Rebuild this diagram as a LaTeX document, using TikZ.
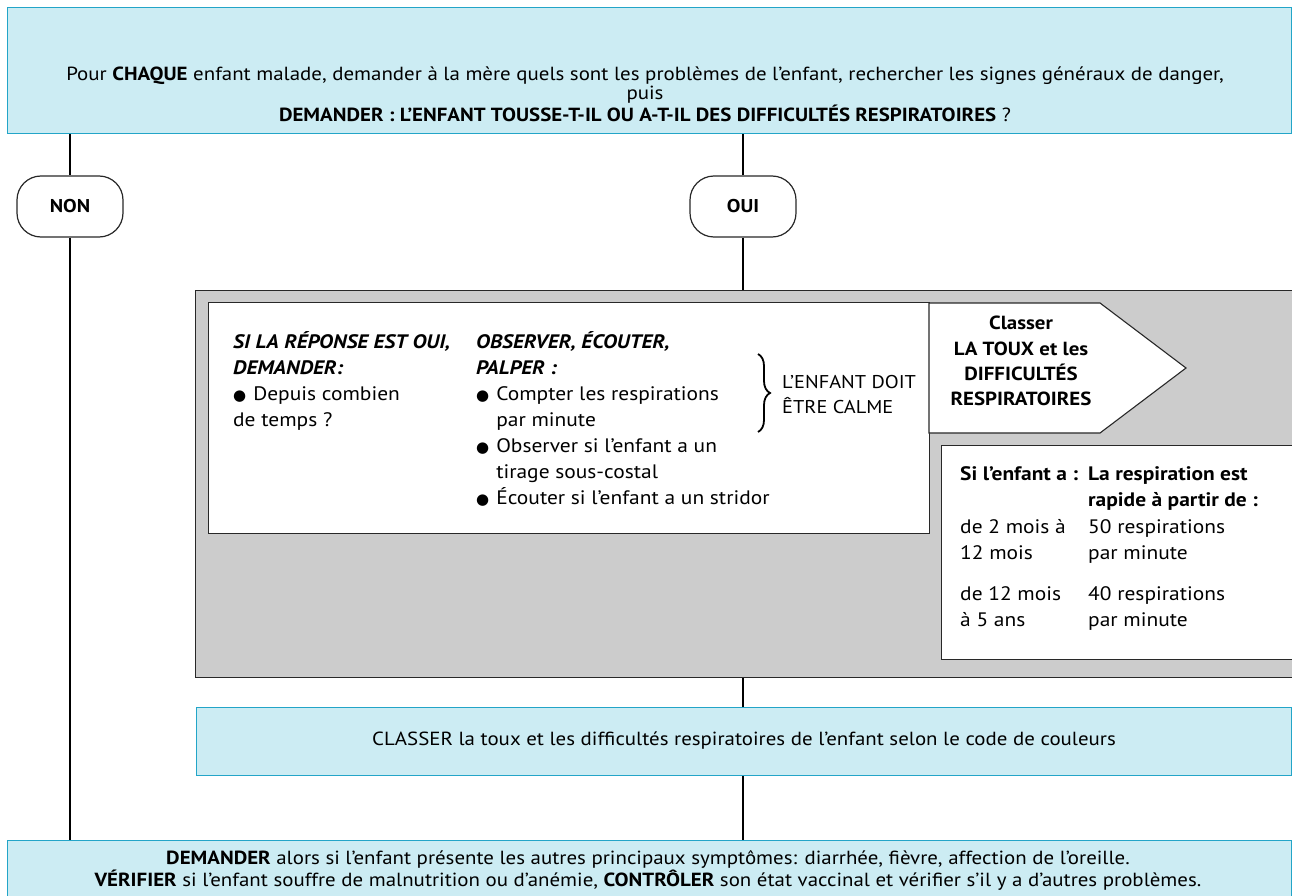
\documentclass[tikz,border=0pt]{standalone}
\usepackage{fontspec}
\setmainfont{PT Sans}[FakeStretch=1.1]
\newfontfamily\symfont{DejaVu Sans}
\usetikzlibrary{decorations.pathreplacing}

\definecolor{bluefill}{RGB}{204,236,243}
\definecolor{blueline}{RGB}{35,165,200}
\definecolor{grayfill}{RGB}{204,204,204}
\definecolor{edge}{RGB}{40,40,40}

\newcommand{\bul}{{\symfont\fontsize{15}{15}\selectfont ●}\hspace{7pt}}
\newcommand{\hang}{\hphantom{\bul}}
% stacked lines, anchored on the baseline of the first one
\newcommand{\lns}[1]{\begin{tabular}[t]{@{}l@{}}#1\end{tabular}}

\begin{document}
\begin{tikzpicture}[x=1pt,y=-1pt,
  bluebox/.style={draw=blueline, fill=bluefill, line width=1.3pt, anchor=north west, inner sep=0pt},
  graybox/.style={draw=edge, fill=grayfill, line width=1.4pt, anchor=north west, inner sep=0pt},
  whitebox/.style={draw=edge, fill=white, line width=1.1pt},
  pill/.style={draw=edge, fill=white, rounded corners=24pt, line width=1.2pt,
    minimum width=106pt, minimum height=61pt, inner sep=0pt,
    font=\fontsize{18.5}{20}\selectfont\bfseries},
  flow/.style={draw=black, line width=2pt},
  body/.style={font=\fontsize{19.5}{26}\selectfont, inner sep=0pt, anchor=base west},
  wide/.style={font=\fontsize{19}{19.7}\selectfont, align=center, inner sep=0pt}]

\useasboundingbox (0,0) rectangle (1292,896);
\clip (0,0) rectangle (1292,896);
\fill[white] (0,0) rectangle (1292,896);

% question box at the top
\node[bluebox, minimum width=1284pt, minimum height=126pt] (q) at (7,7) {};
\node[wide] (qtext) at (645,94) {Pour \textbf{CHAQUE} enfant malade, demander à la mère quels sont les problèmes de l’enfant, rechercher les signes généraux de danger,\\
puis\\
\textbf{DEMANDER : L’ENFANT TOUSSE-T-IL OU A-T-IL DES DIFFICULTÉS RESPIRATOIRES} ?};

% answer pills
\node[pill] (non) at (70,206.5) {NON};
\node[pill] (oui) at (743,206.5) {OUI};

% grey assessment panel
\node[graybox, minimum width=1120pt, minimum height=387pt] (gray) at (195,290) {};
\node[whitebox, anchor=north west, minimum width=721pt, minimum height=231pt, inner sep=0pt] (ask) at (208,302) {};

% classify arrow
\draw[whitebox] (929,303) -- (1100,303) -- (1186,368) -- (1100,433) -- (929,433) -- cycle;
\node[font=\fontsize{19}{25.3}\selectfont\bfseries, align=center, inner sep=0pt] (arrowtext) at (1021,361)
  {Classer\\LA TOUX et les\\DIFFICULTÉS\\RESPIRATOIRES};

% fast breathing table
\node[whitebox, anchor=north west, minimum width=380pt, minimum height=214pt, inner sep=0pt] (tab) at (941,445) {};

% question column
\node[body] (c1) at (233,348) {\lns{\textbf{\textit{SI LA RÉPONSE EST OUI,}}\\
\textbf{\textit{DEMANDER:}}\\
\bul Depuis combien\\
de temps ?}};

% observation column
\node[body] (c2) at (476,348) {\lns{\textbf{\textit{OBSERVER, ÉCOUTER,}}\\
\textbf{\textit{PALPER :}}\\
\bul Compter les respirations\\
\hang par minute\\
\bul Observer si l’enfant a un\\
\hang tirage sous-costal\\
\bul Écouter si l’enfant a un stridor}};

\draw[decorate, decoration={brace, amplitude=12pt, aspect=0.5}, line width=1.8pt]
  (758,354) -- (758,432);
\node[body, font=\fontsize{18.5}{25.5}\selectfont] (calm) at (782,388) {\lns{L’ENFANT DOIT\\ÊTRE CALME}};

% table contents
\node[body] (h1) at (960,480) {\textbf{Si l’enfant a :}};
\node[body] (h2) at (1088,480) {\lns{\textbf{La respiration est}\\\textbf{rapide à partir de :}}};
\node[body] (a1) at (960,533) {\lns{de 2 mois à\\12 mois}};
\node[body] (b1) at (1088,533) {\lns{50 respirations\\par minute}};
\node[body] (a2) at (960,600) {\lns{de 12 mois\\à 5 ans}};
\node[body] (b2) at (1088,600) {\lns{40 respirations\\par minute}};

% classification box
\node[bluebox, minimum width=1095pt, minimum height=68pt] (cls) at (196,707) {};
\node[wide] (clstext) at (744,741) {CLASSER la toux et les difficultés respiratoires de l’enfant selon le code de couleurs};

% closing box
\node[bluebox, minimum width=1284pt, minimum height=100pt] (fin) at (7,840) {};
\node[wide, font=\fontsize{19}{22}\selectfont] (fintext) at (648,870) {\textbf{DEMANDER} alors si l’enfant présente les autres principaux symptômes: diarrhée, fièvre, affection de l’oreille.\\
\textbf{VÉRIFIER} si l’enfant souffre de malnutrition ou d’anémie, \textbf{CONTRÔLER} son état vaccinal et vérifier s’il y a d’autres problèmes.};

% connectors
\draw[flow] (q.south -| non.north) -- (non.north);
\draw[flow] (non.south) -- (non.south |- fin.north);
\draw[flow] (q.south -| oui.north) -- (oui.north);
\draw[flow] (oui.south) -- (oui.south |- gray.north);
\draw[flow] (oui.south |- gray.south) -- (oui.south |- cls.north);
\draw[flow] (oui.south |- cls.south) -- (oui.south |- fin.north);
\end{tikzpicture}
\end{document}
